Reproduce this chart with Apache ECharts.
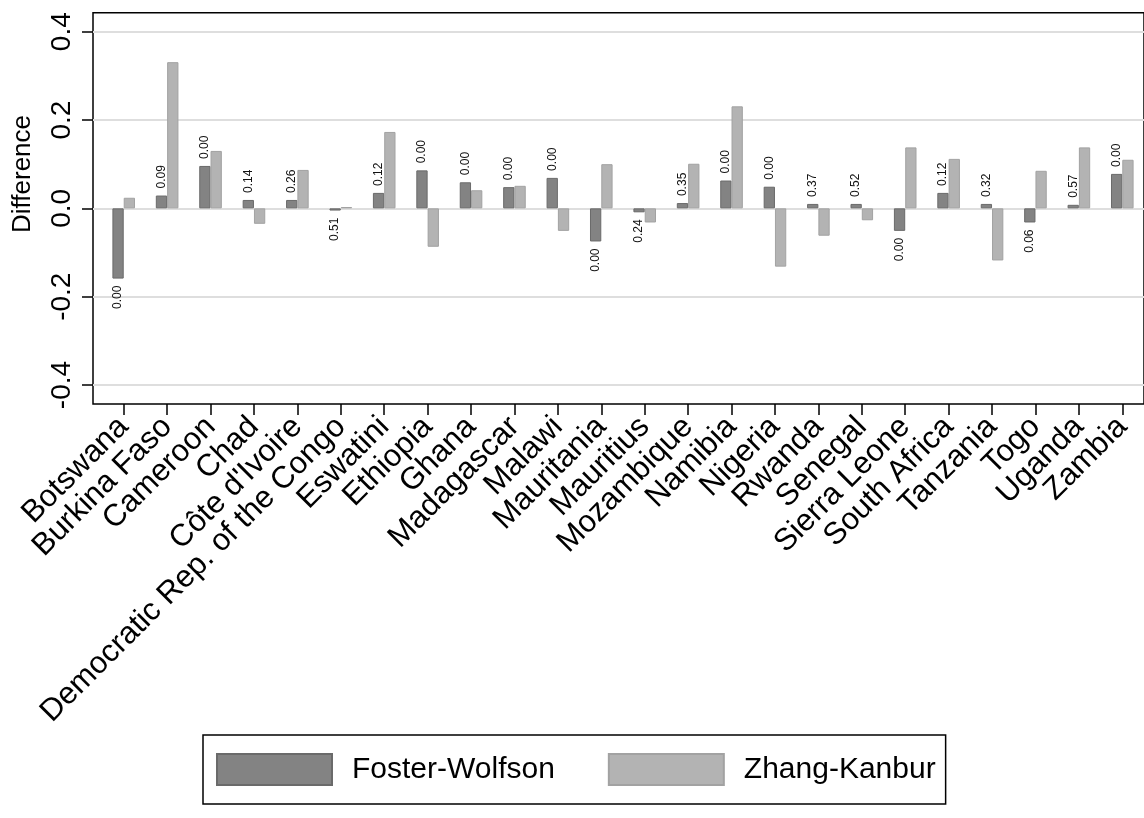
<!DOCTYPE html>
<html>
<head>
<meta charset="utf-8">
<script src="https://cdn.jsdelivr.net/npm/echarts@6/dist/echarts.min.js"></script>
<style>
  html, body { margin: 0; padding: 0; background: #ffffff; }
  #chart { width: 1144px; height: 818px; }
</style>
</head>
<body>
<div id="chart"></div>
<script>
// Countries on the x axis
const countries = [
  'Botswana', 'Burkina Faso', 'Cameroon', 'Chad', "Côte d'Ivoire",
  'Democratic Rep. of the Congo', 'Eswatini', 'Ethiopia', 'Ghana', 'Madagascar',
  'Malawi', 'Mauritania', 'Mauritius', 'Mozambique', 'Namibia', 'Nigeria',
  'Rwanda', 'Senegal', 'Sierra Leone', 'South Africa', 'Tanzania', 'Togo',
  'Uganda', 'Zambia'
];

// Difference by measure
const fosterWolfson = [
  -0.159, 0.029, 0.096, 0.019, 0.019, -0.005, 0.035, 0.086, 0.059, 0.048,
  0.069, -0.075, -0.009, 0.012, 0.063, 0.049, 0.010, 0.010, -0.051, 0.035,
  0.010, -0.032, 0.008, 0.078
];
const zhangKanbur = [
  0.024, 0.331, 0.130, -0.035, 0.087, 0.003, 0.173, -0.087, 0.041, 0.051,
  -0.051, 0.100, -0.032, 0.101, 0.231, -0.132, -0.062, -0.027, 0.138, 0.112,
  -0.118, 0.085, 0.138, 0.110
];

// p-values printed beside the Foster-Wolfson bars
const pValues = [
  '0.00', '0.09', '0.00', '0.14', '0.26', '0.51', '0.12', '0.00', '0.00', '0.00',
  '0.00', '0.00', '0.24', '0.35', '0.00', '0.00', '0.37', '0.52', '0.00', '0.12',
  '0.32', '0.06', '0.57', '0.00'
];

const seriesNames = ['Foster-Wolfson', 'Zhang-Kanbur'];
const yTicks = [-0.4, -0.2, 0.0, 0.2, 0.4];
const yLimit = 0.443;          // plot region spans -yLimit .. yLimit
const yAxisTitle = 'Difference';

// ---- layout ----
const FONT = '"Liberation Sans", Arial, Helvetica, sans-serif';
const plotLeft = 93, plotTop = 12.7, plotBottom = 404;
const plotH = plotBottom - plotTop;
const pxPerUnit = plotH / (2 * yLimit);
const tickSpan = yTicks[yTicks.length - 1] - yTicks[0];
const tickTopPx = plotTop + (yLimit - yTicks[yTicks.length - 1]) * pxPerUnit;
const tickH = tickSpan * pxPerUnit;
const barsLeft = 102, barsWidth = 1043.3;

const chart = echarts.init(document.getElementById('chart'), null, { renderer: 'canvas' });

function valueLabel(v) {
  return v >= 0
    ? { position: 'top', align: 'left', verticalAlign: 'middle' }
    : { position: 'bottom', align: 'right', verticalAlign: 'middle' };
}

const option = {
  animation: false,
  backgroundColor: '#ffffff',
  textStyle: { fontFamily: FONT },
  grid: [
    // y ticks, labels and grid lines
    { left: plotLeft, top: tickTopPx, right: -20, height: tickH },
    // bars and country axis
    { left: barsLeft, top: plotTop, width: barsWidth, height: plotH },
    // plot frame
    { left: plotLeft, top: plotTop, right: -20, height: plotH, show: true,
      borderColor: '#000000', borderWidth: 1.5, backgroundColor: 'transparent' }
  ],
  xAxis: [
    { gridIndex: 0, type: 'value', min: 0, max: 1, show: false },
    {
      gridIndex: 1, type: 'category', data: countries, position: 'bottom',
      axisLine: { show: false, onZero: false },
      axisTick: { show: true, alignWithLabel: true, length: 11, lineStyle: { color: '#000', width: 1.5 } },
      axisLabel: { interval: 0, rotate: 45, fontSize: 31, color: '#000', fontFamily: FONT, margin: 18 },
      splitLine: { show: false }
    },
    { gridIndex: 2, type: 'value', min: 0, max: 1, show: false }
  ],
  yAxis: [
    {
      gridIndex: 0, type: 'value',
      min: yTicks[0], max: yTicks[yTicks.length - 1], interval: yTicks[1] - yTicks[0],
      axisLine: { show: false },
      axisTick: { show: true, length: 11, lineStyle: { color: '#000', width: 1.5 } },
      axisLabel: { rotate: 90, fontSize: 28, color: '#000', fontFamily: FONT, margin: 17,
                   formatter: v => v.toFixed(1) },
      splitLine: { show: true, lineStyle: { color: '#dedede', width: 2 } }
    },
    { gridIndex: 1, type: 'value', min: -yLimit, max: yLimit, show: false },
    { gridIndex: 2, type: 'value', min: 0, max: 1, show: false }
  ],
  legend: {
    data: seriesNames,
    left: 203, top: 735,
    orient: 'horizontal',
    icon: 'rect',
    itemWidth: 115, itemHeight: 31, itemGap: 53,
    padding: [18, 10, 18, 13],
    borderColor: '#000', borderWidth: 1.5,
    textStyle: { fontSize: 30, color: '#000', fontFamily: FONT, padding: [0, 0, 0, 15] }
  },
  graphic: [
    {
      type: 'text', x: 23, y: 174, rotation: Math.PI / 2,
      style: { text: yAxisTitle, font: '26px ' + FONT, fill: '#000',
               textAlign: 'center', textVerticalAlign: 'middle' }
    }
  ],
  series: [
    {
      name: seriesNames[0], type: 'bar', xAxisIndex: 1, yAxisIndex: 1,
      barWidth: 11.3, barGap: '0%',
      itemStyle: { color: '#838383', borderColor: '#6a6a6a', borderWidth: 1 },
      label: {
        show: true, rotate: 90, distance: 7, fontSize: 12, color: '#111',
        fontFamily: FONT, formatter: p => pValues[p.dataIndex]
      },
      data: fosterWolfson.map(v => ({ value: v, label: valueLabel(v) }))
    },
    {
      name: seriesNames[1], type: 'bar', xAxisIndex: 1, yAxisIndex: 1,
      barWidth: 11.3, barGap: '0%',
      itemStyle: { color: '#b3b3b3', borderColor: '#a2a2a2', borderWidth: 1 },
      data: zhangKanbur
    }
  ]
};

chart.setOption(option);
</script>
</body>
</html>
